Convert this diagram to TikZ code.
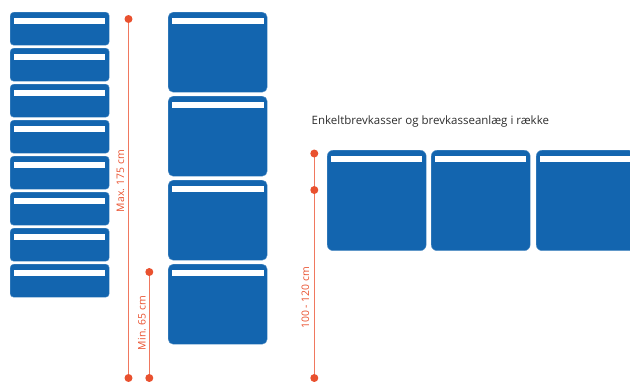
\documentclass[tikz,border=0pt]{standalone}
\usepackage{fontspec}
\setmainfont{Open Sans}
\usetikzlibrary{calc}
\definecolor{boxblue}{RGB}{19,101,175}
\definecolor{dotred}{RGB}{233,81,47}
\definecolor{linered}{RGB}{240,120,95}
\definecolor{txtgray}{RGB}{45,45,45}
\begin{document}
\begin{tikzpicture}[x=1pt,y=-1pt,
  mbox/.style={fill=boxblue, draw=boxblue!70!white, line width=0.4pt, rounded corners=3.5pt, anchor=north west, inner sep=0pt},
  slot/.style={fill=white, inner sep=0pt, minimum height=5.8pt},
  measure/.style={linered, line width=1.3pt},
  mdot/.style={circle, fill=dotred, inner sep=0pt, minimum size=8pt},
  mlabel/.style={text=dotred, font=\fontsize{10.4}{12}\selectfont, rotate=90},
]
\useasboundingbox (0,0) rectangle (630,381);
\clip (0,0) rectangle (630,381);
% left column
\foreach \i in {0,...,7}{
  \node[mbox, minimum width=99pt, minimum height=33pt] (l\i) at (10,{12+36*\i}) {};
  \node[slot, minimum width=91pt] (ls\i) at ($(l\i.north)+(0,9)$) {};
}
% middle column
\foreach \i in {0,...,3}{
  \node[mbox, minimum width=99pt, minimum height=80pt, rounded corners=5pt] (m\i) at (168,{12+84*\i}) {};
  \node[slot, minimum width=92pt] (ms\i) at ($(m\i.north)+(0,9)$) {};
}
% right row
\foreach \i/\x in {0/327,1/431,2/536}{
  \node[mbox, minimum width=99pt, minimum height=100.5pt, rounded corners=6pt] (r\i) at (\x,150) {};
  \node[slot, minimum width=91.5pt] (rs\i) at ($(r\i.north)+(0,9)$) {};
}
% measures
\coordinate (maxtop) at (128.5,19);
\coordinate (maxbot) at (128.5,378);
\coordinate (mintop) at (149.3,272);
\coordinate (minbot) at (149.3,378);
\coordinate (rtop) at (314.3,153.5);
\coordinate (rmid) at (314.3,190);
\coordinate (rbot) at (314.3,378);
\draw[measure] (maxtop) -- (maxbot);
\draw[measure] (mintop) -- (minbot);
\draw[measure] (rtop) -- (rbot);
\foreach \c in {maxtop,maxbot,mintop,minbot,rtop,rmid,rbot}
  \node[mdot] (d\c) at (\c) {};
\node[mlabel] (maxlbl) at (120.5,181) {Max. 175 cm};
\node[mlabel] (minlbl) at (142,323) {Min. 65 cm};
\node[mlabel] (rlbl) at (305.5,298) {100 - 120 cm};
\node[text=txtgray, font=\fontsize{11.5}{13}\selectfont, anchor=west, inner sep=0pt] (title) at (311.5,122) {Enkeltbrevkasser og brevkasseanlæg i række};
\end{tikzpicture}
\end{document}
